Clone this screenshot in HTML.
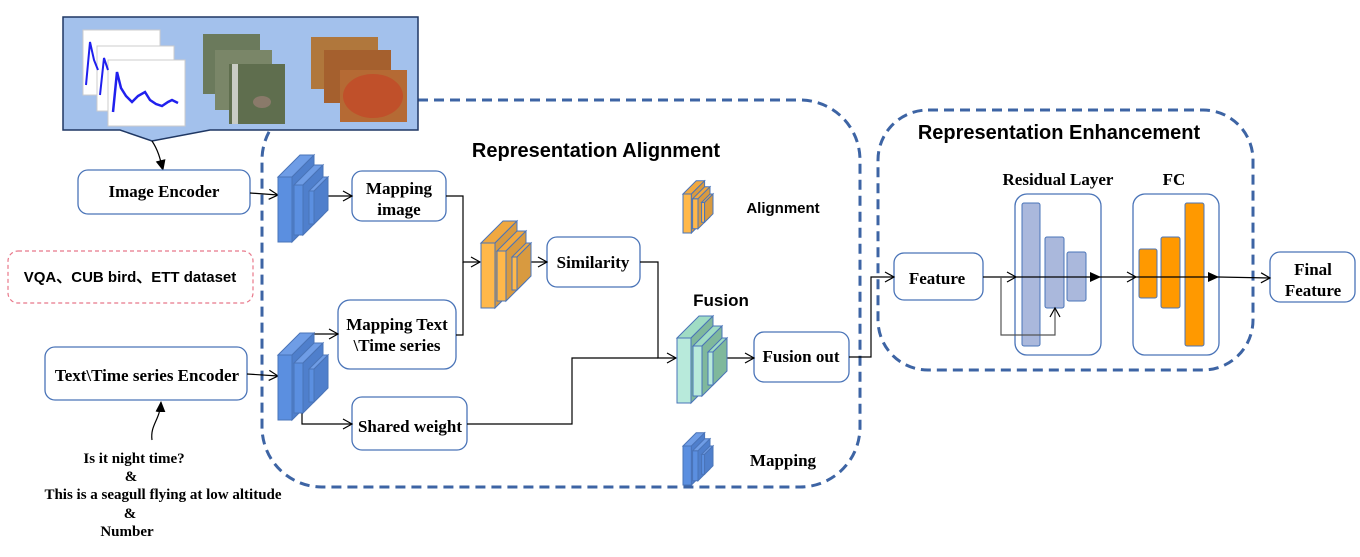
<!DOCTYPE html>
<html><head><meta charset="utf-8"><style>
html,body{margin:0;padding:0;background:#fff}
svg{display:block}
.b{font-family:"Liberation Serif",serif;font-weight:bold;font-size:17px;fill:#000}
.s{font-family:"Liberation Sans",sans-serif;font-weight:bold;fill:#000}
</style></head><body>
<svg id="sv" width="1360" height="557" viewBox="0 0 1360 557" xmlns="http://www.w3.org/2000/svg">
<defs>
<marker id="oa" markerWidth="12" markerHeight="12" refX="10" refY="6" orient="auto" markerUnits="userSpaceOnUse"><path d="M1,1 L10,6 L1,11" fill="none" stroke="#000" stroke-width="1.2"/></marker>
<marker id="fa" markerWidth="12" markerHeight="12" refX="10" refY="6" orient="auto" markerUnits="userSpaceOnUse"><path d="M0,1 L11,6 L0,11 Z" fill="#000"/></marker>
</defs>
<rect x="262" y="100" width="598" height="387" rx="60" fill="none" stroke="#3d64a4" stroke-width="3" stroke-dasharray="10,6"/>
<rect x="878" y="110" width="375" height="260" rx="50" fill="none" stroke="#3d64a4" stroke-width="3" stroke-dasharray="10,6"/>
<path d="M63,17 H418 V130 H210 L152,141 L120,130 H63 Z" fill="#a3c1ec" stroke="#1f3763" stroke-width="1.5"/>
<g stroke="#ccc" stroke-width="1" fill="#fff">
<rect x="83" y="30" width="77" height="65"/><rect x="97" y="46" width="77" height="65"/><rect x="108" y="60" width="77" height="66"/>
</g>
<polyline points="113,112 117,72 121,88 126,96 132,102 138,96 145,92 150,100 156,104 162,106 168,102 172,100 178,103" fill="none" stroke="#2020ee" stroke-width="2.5"/>
<polyline points="86,85 90,42 94,60 98,70" fill="none" stroke="#2020ee" stroke-width="2"/>
<polyline points="100,95 104,58 108,70" fill="none" stroke="#2020ee" stroke-width="2"/>
<g>
<rect x="203" y="34" width="57" height="60" fill="#6b7a5c"/><rect x="215" y="50" width="57" height="60" fill="#7a8668"/><rect x="229" y="64" width="56" height="60" fill="#5f6e4e"/>
<rect x="232" y="64" width="6" height="60" fill="#c9ccc4"/><ellipse cx="262" cy="102" rx="9" ry="6" fill="#8a7a6a"/>
<rect x="311" y="37" width="67" height="52" fill="#b0773c"/><rect x="324" y="50" width="67" height="53" fill="#a5602e"/><rect x="340" y="70" width="67" height="52" fill="#b56a34"/>
<ellipse cx="373" cy="96" rx="30" ry="22" fill="#c0502a"/>
</g>
<path d="M152,141 C158,150 160,158 163,170" fill="none" stroke="#000" stroke-width="1.2" marker-end="url(#fa)"/>
<path d="M152,440 C150,425 160,420 161,402" fill="none" stroke="#000" stroke-width="1.2" marker-end="url(#fa)"/>
<g fill="#fff" stroke="#4a74b8" stroke-width="1.3">
<rect x="78" y="170" width="172" height="44" rx="10"/>
<rect x="352" y="171" width="94" height="50" rx="10"/>
<rect x="547" y="237" width="93" height="50" rx="10"/>
<rect x="338" y="300" width="118" height="69" rx="12"/>
<rect x="352" y="397" width="115" height="53" rx="10"/>
<rect x="45" y="347" width="202" height="53" rx="10"/>
<rect x="754" y="332" width="95" height="50" rx="10"/>
<rect x="894" y="253" width="89" height="47" rx="10"/>
<rect x="1270" y="252" width="85" height="50" rx="10"/>
<rect x="1015" y="194" width="86" height="161" rx="12"/>
<rect x="1133" y="194" width="86" height="161" rx="12"/>
</g>
<rect x="8" y="251" width="245" height="52" rx="10" fill="none" stroke="#e8788a" stroke-width="1.2" stroke-dasharray="4,3"/>
<g fill="#aab8dc" stroke="#4a74b8" stroke-width="1">
<rect x="1022" y="203" width="18" height="143" rx="2"/><rect x="1045" y="237" width="19" height="71" rx="2"/><rect x="1067" y="252" width="19" height="49" rx="2"/>
</g>
<g fill="#ff9900" stroke="#4a74b8" stroke-width="1">
<rect x="1139" y="249" width="18" height="49" rx="2"/><rect x="1161" y="237" width="19" height="71" rx="2"/><rect x="1185" y="203" width="19" height="143" rx="2"/>
</g>
<g fill="none" stroke="#000" stroke-width="1.2">
<path d="M250,193 L278,195" marker-end="url(#oa)"/>
<path d="M316,196 H352" marker-end="url(#oa)"/>
<path d="M446,196 H463 V262 H480" marker-end="url(#oa)"/>
<path d="M456,335 H463 V262"/>
<path d="M528,262 H547" marker-end="url(#oa)"/>
<path d="M640,262 H658 V358 H676" marker-end="url(#oa)"/>
<path d="M467,424 H572 V358 H658"/>
<path d="M314,334 H338" marker-end="url(#oa)"/>
<path d="M302,408 V424 H352" marker-end="url(#oa)"/>
<path d="M247,374 L278,376" marker-end="url(#oa)"/>
<path d="M724,358 H754" marker-end="url(#oa)"/>
<path d="M849,357 H871 V277 H894" marker-end="url(#oa)"/>
<path d="M983,277 H1016" marker-end="url(#oa)"/>
<path d="M1016,277 H1100" marker-end="url(#fa)"/>
<path d="M1100,277 H1136" marker-end="url(#oa)"/>
<path d="M1136,277 H1218" marker-end="url(#fa)"/>
<path d="M1218,277 L1270,278" marker-end="url(#oa)"/>
<path d="M1001,277 V335 H1055 V308" stroke="#555" marker-end="url(#oa)"/>
</g>
<g id="cubes"></g>
<text class="s" x="596" y="157" font-size="20" text-anchor="middle">Representation Alignment</text>
<text class="s" x="1059" y="139" font-size="20" text-anchor="middle">Representation  Enhancement</text>
<text class="s" x="783" y="213" font-size="15" text-anchor="middle">Alignment</text>
<text class="s" x="721" y="306" font-size="17" text-anchor="middle">Fusion</text>
<text class="b" x="783" y="466" text-anchor="middle">Mapping</text>
<text class="s" x="130" y="282" font-size="15" text-anchor="middle">VQA、CUB bird、ETT dataset</text>
<g class="b" text-anchor="middle">
<text x="164" y="197">Image Encoder</text>
<text x="399" y="194">Mapping</text><text x="399" y="215">image</text>
<text x="593" y="268">Similarity</text>
<text x="397" y="330">Mapping Text</text><text x="397" y="351">\Time series</text>
<text x="410" y="432">Shared weight</text>
<text x="147" y="381">Text\Time series Encoder</text>
<text x="801" y="362">Fusion out</text>
<text x="937" y="284">Feature</text>
<text x="1058" y="185">Residual Layer</text>
<text x="1174" y="185">FC</text>
<text x="1313" y="275">Final</text><text x="1313" y="296">Feature</text>
</g>
<g class="b" text-anchor="middle" style="font-size:15px">
<text x="134" y="463">Is it night time?</text>
<text x="131" y="481">&amp;</text>
<text x="163" y="499">This is a seagull flying at low altitude</text>
<text x="130" y="518">&amp;</text>
<text x="127" y="536">Number</text>
</g>
</svg>
<script>
var g=document.getElementById('cubes'),NS='http://www.w3.org/2000/svg';
function poly(pts,f){var p=document.createElementNS(NS,'polygon');p.setAttribute('points',pts.map(function(a){return a.join(',')}).join(' '));p.setAttribute('fill',f);p.setAttribute('stroke','#4a74b8');p.setAttribute('stroke-width','1');g.appendChild(p);}
function layer(x,y,w,h,d,c){poly([[x,y],[x+w,y],[x+w,y+h],[x,y+h]],c[0]);poly([[x,y],[x+d,y-d],[x+w+d,y-d],[x+w,y]],c[1]);poly([[x+w,y],[x+w+d,y-d],[x+w+d,y+h-d],[x+w,y+h]],c[2]);}
function stack(x,y,s,c){layer(x,y,14*s,65*s,22*s,c);layer(x+16*s,y+8*s,9*s,50*s,20*s,c);layer(x+31*s,y+14*s,5*s,33*s,14*s,c);}
var blue=['#5b8fe0','#6f9de6','#4f7fcc'],orange=['#ffb84a','#f0a840','#d89a40'],green=['#b8eadb','#a0dcc4','#7fb89c'];
stack(278,177,1,blue);stack(278,355,1,blue);stack(481,243,1,orange);stack(677,338,1,green);
stack(683,194,0.6,orange);stack(683,446,0.6,blue);
</script>
</body></html>
